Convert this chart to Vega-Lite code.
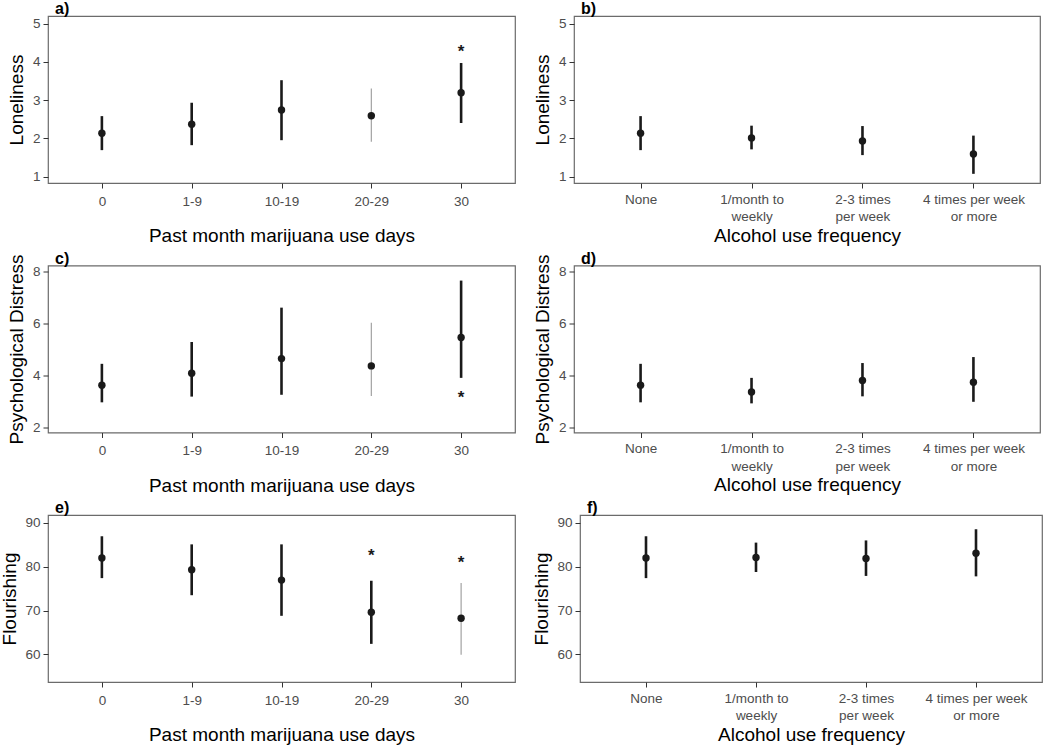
{
  "$schema": "https://vega.github.io/schema/vega-lite/v6.json",
  "padding": {"left": 0, "top": 0, "right": 4, "bottom": 0},
  "background": "white",
  "config": {
    "font": "Liberation Sans",
    "view": {"stroke": "#6b6b6b", "strokeWidth": 1.2},
    "axis": {"grid": false, "domain": false, "labelFont": "Liberation Sans", "titleFont": "Liberation Sans", "labelColor": "#4d4d4d", "titleColor": "#000000", "tickColor": "#333333", "tickSize": 5, "labelFontSize": 13.5, "titleFontSize": 19, "titleFontWeight": "normal"},
    "axisX": {"labelAngle": 0, "labelPadding": 4, "labelLineHeight": 17.5},
    "axisY": {"labelPadding": 3, "titlePadding": 6},
    "title": {"anchor": "start", "frame": "group", "font": "Liberation Sans", "fontSize": 16, "fontWeight": "bold", "offset": -1, "dx": 7, "color": "#000000"}
  },
  "data": {"values": [
    {"outcome": "Loneliness", "exposure": "Marijuana", "category": "0", "mean": 2.13, "lower": 1.69, "upper": 2.58, "sample": "full", "sig": null},
    {"outcome": "Loneliness", "exposure": "Marijuana", "category": "1-9", "mean": 2.37, "lower": 1.82, "upper": 2.93, "sample": "full", "sig": null},
    {"outcome": "Loneliness", "exposure": "Marijuana", "category": "10-19", "mean": 2.74, "lower": 1.95, "upper": 3.52, "sample": "full", "sig": null},
    {"outcome": "Loneliness", "exposure": "Marijuana", "category": "20-29", "mean": 2.59, "lower": 1.91, "upper": 3.30, "sample": "small", "sig": null},
    {"outcome": "Loneliness", "exposure": "Marijuana", "category": "30", "mean": 3.19, "lower": 2.40, "upper": 3.97, "sample": "full", "sig": 4.35},
    {"outcome": "Loneliness", "exposure": "Alcohol", "category": "None", "mean": 2.13, "lower": 1.69, "upper": 2.58, "sample": "full", "sig": null},
    {"outcome": "Loneliness", "exposure": "Alcohol", "category": "1/month to weekly", "mean": 2.01, "lower": 1.71, "upper": 2.33, "sample": "full", "sig": null},
    {"outcome": "Loneliness", "exposure": "Alcohol", "category": "2-3 times per week", "mean": 1.93, "lower": 1.56, "upper": 2.32, "sample": "full", "sig": null},
    {"outcome": "Loneliness", "exposure": "Alcohol", "category": "4 times per week or more", "mean": 1.59, "lower": 1.07, "upper": 2.07, "sample": "full", "sig": null},
    {"outcome": "Psychological Distress", "exposure": "Marijuana", "category": "0", "mean": 3.63, "lower": 2.97, "upper": 4.45, "sample": "full", "sig": null},
    {"outcome": "Psychological Distress", "exposure": "Marijuana", "category": "1-9", "mean": 4.09, "lower": 3.19, "upper": 5.29, "sample": "full", "sig": null},
    {"outcome": "Psychological Distress", "exposure": "Marijuana", "category": "10-19", "mean": 4.65, "lower": 3.26, "upper": 6.61, "sample": "full", "sig": null},
    {"outcome": "Psychological Distress", "exposure": "Marijuana", "category": "20-29", "mean": 4.37, "lower": 3.21, "upper": 6.03, "sample": "small", "sig": null},
    {"outcome": "Psychological Distress", "exposure": "Marijuana", "category": "30", "mean": 5.46, "lower": 3.91, "upper": 7.65, "sample": "full", "sig": 3.29},
    {"outcome": "Psychological Distress", "exposure": "Alcohol", "category": "None", "mean": 3.63, "lower": 2.97, "upper": 4.45, "sample": "full", "sig": null},
    {"outcome": "Psychological Distress", "exposure": "Alcohol", "category": "1/month to weekly", "mean": 3.37, "lower": 2.93, "upper": 3.91, "sample": "full", "sig": null},
    {"outcome": "Psychological Distress", "exposure": "Alcohol", "category": "2-3 times per week", "mean": 3.81, "lower": 3.20, "upper": 4.48, "sample": "full", "sig": null},
    {"outcome": "Psychological Distress", "exposure": "Alcohol", "category": "4 times per week or more", "mean": 3.74, "lower": 2.99, "upper": 4.71, "sample": "full", "sig": null},
    {"outcome": "Flourishing", "exposure": "Marijuana", "category": "0", "mean": 82.0, "lower": 77.4, "upper": 86.95, "sample": "full", "sig": null},
    {"outcome": "Flourishing", "exposure": "Marijuana", "category": "1-9", "mean": 79.3, "lower": 73.5, "upper": 85.1, "sample": "full", "sig": null},
    {"outcome": "Flourishing", "exposure": "Marijuana", "category": "10-19", "mean": 76.95, "lower": 68.8, "upper": 85.1, "sample": "full", "sig": null},
    {"outcome": "Flourishing", "exposure": "Marijuana", "category": "20-29", "mean": 69.6, "lower": 62.4, "upper": 76.8, "sample": "full", "sig": 83.4},
    {"outcome": "Flourishing", "exposure": "Marijuana", "category": "30", "mean": 68.24, "lower": 59.9, "upper": 76.3, "sample": "small", "sig": 81.76},
    {"outcome": "Flourishing", "exposure": "Alcohol", "category": "None", "mean": 82.0, "lower": 77.4, "upper": 86.95, "sample": "full", "sig": null},
    {"outcome": "Flourishing", "exposure": "Alcohol", "category": "1/month to weekly", "mean": 82.1, "lower": 78.8, "upper": 85.5, "sample": "full", "sig": null},
    {"outcome": "Flourishing", "exposure": "Alcohol", "category": "2-3 times per week", "mean": 81.9, "lower": 77.9, "upper": 86.0, "sample": "full", "sig": null},
    {"outcome": "Flourishing", "exposure": "Alcohol", "category": "4 times per week or more", "mean": 83.1, "lower": 77.8, "upper": 88.55, "sample": "full", "sig": null}
  ]},
  "concat": [
    {
      "hconcat": [
        {
          "title": "a)", "width": 467, "height": 167,
          "transform": [{"filter": "datum.outcome == 'Loneliness' && datum.exposure == 'Marijuana'"}],
          "encoding": {"x": {"field": "category", "type": "ordinal", "sort": ["0", "1-9", "10-19", "20-29", "30"], "scale": {"type": "point", "padding": 0.6}, "axis": {"title": "Past month marijuana use days", "titlePadding": 19, "labelPadding": 6}}},
          "layer": [
            {"mark": {"type": "rule", "strokeCap": "butt"}, "encoding": {
              "y": {"field": "lower", "type": "quantitative", "scale": {"domain": [0.83, 5.2], "nice": false, "zero": false}, "axis": {"title": "Loneliness", "values": [1, 2, 3, 4, 5]}},
              "y2": {"field": "upper"},
              "color": {"condition": {"test": "datum.sample == 'small'", "value": "#9a9a9a"}, "value": "#1a1a1a"},
              "strokeWidth": {"condition": {"test": "datum.sample == 'small'", "value": 1.1}, "value": 2.6}}},
            {"mark": {"type": "point", "filled": true, "size": 55, "opacity": 1, "color": "#1a1a1a"}, "encoding": {
              "y": {"field": "mean", "type": "quantitative", "axis": {"title": "Loneliness", "values": [1, 2, 3, 4, 5]}}}},
            {"transform": [{"filter": "isValid(datum.sig)"}], "mark": {"type": "text", "text": "*", "fontSize": 17, "fontWeight": "bold", "baseline": "alphabetic", "dy": 9, "color": "#1a1a1a"}, "encoding": {
              "y": {"field": "sig", "type": "quantitative", "axis": {"title": "Loneliness", "values": [1, 2, 3, 4, 5]}}}}
          ]
        },
        {
          "title": "b)", "width": 466, "height": 167,
          "transform": [{"filter": "datum.outcome == 'Loneliness' && datum.exposure == 'Alcohol'"}],
          "encoding": {"x": {"field": "category", "type": "ordinal", "sort": ["None", "1/month to weekly", "2-3 times per week", "4 times per week or more"], "scale": {"type": "point", "padding": 0.6}, "axis": {"title": "Alcohol use frequency", "titlePadding": 3, "labelExpr": "datum.label == '1/month to weekly' ? ['1/month to', 'weekly'] : datum.label == '2-3 times per week' ? ['2-3 times', 'per week'] : datum.label == '4 times per week or more' ? ['4 times per week', 'or more'] : datum.label"}}},
          "layer": [
            {"mark": {"type": "rule", "strokeCap": "butt"}, "encoding": {
              "y": {"field": "lower", "type": "quantitative", "scale": {"domain": [0.83, 5.2], "nice": false, "zero": false}, "axis": {"title": "Loneliness", "values": [1, 2, 3, 4, 5]}},
              "y2": {"field": "upper"},
              "color": {"condition": {"test": "datum.sample == 'small'", "value": "#9a9a9a"}, "value": "#1a1a1a"},
              "strokeWidth": {"condition": {"test": "datum.sample == 'small'", "value": 1.1}, "value": 2.6}}},
            {"mark": {"type": "point", "filled": true, "size": 55, "opacity": 1, "color": "#1a1a1a"}, "encoding": {
              "y": {"field": "mean", "type": "quantitative", "axis": {"title": "Loneliness", "values": [1, 2, 3, 4, 5]}}}}
          ]
        }
      ],
      "spacing": 16
    },
    {
      "hconcat": [
        {
          "title": {"text": "c)", "offset": -13}, "width": 467, "height": 167,
          "transform": [{"filter": "datum.outcome == 'Psychological Distress' && datum.exposure == 'Marijuana'"}],
          "encoding": {"x": {"field": "category", "type": "ordinal", "sort": ["0", "1-9", "10-19", "20-29", "30"], "scale": {"type": "point", "padding": 0.6}, "axis": {"title": "Past month marijuana use days", "titlePadding": 19, "labelPadding": 6}}},
          "layer": [
            {"mark": {"type": "rule", "strokeCap": "butt"}, "encoding": {
              "y": {"field": "lower", "type": "quantitative", "scale": {"domain": [1.81, 8.23], "nice": false, "zero": false}, "axis": {"title": "Psychological Distress", "values": [2, 4, 6, 8]}},
              "y2": {"field": "upper"},
              "color": {"condition": {"test": "datum.sample == 'small'", "value": "#9a9a9a"}, "value": "#1a1a1a"},
              "strokeWidth": {"condition": {"test": "datum.sample == 'small'", "value": 1.1}, "value": 2.6}}},
            {"mark": {"type": "point", "filled": true, "size": 55, "opacity": 1, "color": "#1a1a1a"}, "encoding": {
              "y": {"field": "mean", "type": "quantitative", "axis": {"title": "Psychological Distress", "values": [2, 4, 6, 8]}}}},
            {"transform": [{"filter": "isValid(datum.sig)"}], "mark": {"type": "text", "text": "*", "fontSize": 17, "fontWeight": "bold", "baseline": "alphabetic", "dy": 9, "color": "#1a1a1a"}, "encoding": {
              "y": {"field": "sig", "type": "quantitative", "axis": {"title": "Psychological Distress", "values": [2, 4, 6, 8]}}}}
          ]
        },
        {
          "title": {"text": "d)", "offset": -13}, "width": 466, "height": 167,
          "transform": [{"filter": "datum.outcome == 'Psychological Distress' && datum.exposure == 'Alcohol'"}],
          "encoding": {"x": {"field": "category", "type": "ordinal", "sort": ["None", "1/month to weekly", "2-3 times per week", "4 times per week or more"], "scale": {"type": "point", "padding": 0.6}, "axis": {"title": "Alcohol use frequency", "titlePadding": 3, "labelExpr": "datum.label == '1/month to weekly' ? ['1/month to', 'weekly'] : datum.label == '2-3 times per week' ? ['2-3 times', 'per week'] : datum.label == '4 times per week or more' ? ['4 times per week', 'or more'] : datum.label"}}},
          "layer": [
            {"mark": {"type": "rule", "strokeCap": "butt"}, "encoding": {
              "y": {"field": "lower", "type": "quantitative", "scale": {"domain": [1.81, 8.23], "nice": false, "zero": false}, "axis": {"title": "Psychological Distress", "values": [2, 4, 6, 8]}},
              "y2": {"field": "upper"},
              "color": {"condition": {"test": "datum.sample == 'small'", "value": "#9a9a9a"}, "value": "#1a1a1a"},
              "strokeWidth": {"condition": {"test": "datum.sample == 'small'", "value": 1.1}, "value": 2.6}}},
            {"mark": {"type": "point", "filled": true, "size": 55, "opacity": 1, "color": "#1a1a1a"}, "encoding": {
              "y": {"field": "mean", "type": "quantitative", "axis": {"title": "Psychological Distress", "values": [2, 4, 6, 8]}}}}
          ]
        }
      ],
      "spacing": 16
    },
    {
      "hconcat": [
        {
          "title": "e)", "width": 467, "height": 167,
          "transform": [{"filter": "datum.outcome == 'Flourishing' && datum.exposure == 'Marijuana'"}],
          "encoding": {"x": {"field": "category", "type": "ordinal", "sort": ["0", "1-9", "10-19", "20-29", "30"], "scale": {"type": "point", "padding": 0.6}, "axis": {"title": "Past month marijuana use days", "titlePadding": 19, "labelPadding": 6}}},
          "layer": [
            {"mark": {"type": "rule", "strokeCap": "butt"}, "encoding": {
              "y": {"field": "lower", "type": "quantitative", "scale": {"domain": [53.7, 91.8], "nice": false, "zero": false}, "axis": {"title": "Flourishing", "values": [60, 70, 80, 90], "titlePadding": 5}},
              "y2": {"field": "upper"},
              "color": {"condition": {"test": "datum.sample == 'small'", "value": "#9a9a9a"}, "value": "#1a1a1a"},
              "strokeWidth": {"condition": {"test": "datum.sample == 'small'", "value": 1.1}, "value": 2.6}}},
            {"mark": {"type": "point", "filled": true, "size": 55, "opacity": 1, "color": "#1a1a1a"}, "encoding": {
              "y": {"field": "mean", "type": "quantitative", "axis": {"title": "Flourishing", "values": [60, 70, 80, 90], "titlePadding": 5}}}},
            {"transform": [{"filter": "isValid(datum.sig)"}], "mark": {"type": "text", "text": "*", "fontSize": 17, "fontWeight": "bold", "baseline": "alphabetic", "dy": 9, "color": "#1a1a1a"}, "encoding": {
              "y": {"field": "sig", "type": "quantitative", "axis": {"title": "Flourishing", "values": [60, 70, 80, 90], "titlePadding": 5}}}}
          ]
        },
        {
          "title": "f)", "width": 462, "height": 167,
          "transform": [{"filter": "datum.outcome == 'Flourishing' && datum.exposure == 'Alcohol'"}],
          "encoding": {"x": {"field": "category", "type": "ordinal", "sort": ["None", "1/month to weekly", "2-3 times per week", "4 times per week or more"], "scale": {"type": "point", "padding": 0.6}, "axis": {"title": "Alcohol use frequency", "titlePadding": 3, "labelExpr": "datum.label == '1/month to weekly' ? ['1/month to', 'weekly'] : datum.label == '2-3 times per week' ? ['2-3 times', 'per week'] : datum.label == '4 times per week or more' ? ['4 times per week', 'or more'] : datum.label"}}},
          "layer": [
            {"mark": {"type": "rule", "strokeCap": "butt"}, "encoding": {
              "y": {"field": "lower", "type": "quantitative", "scale": {"domain": [53.7, 91.8], "nice": false, "zero": false}, "axis": {"title": "Flourishing", "values": [60, 70, 80, 90], "titlePadding": 5}},
              "y2": {"field": "upper"},
              "color": {"condition": {"test": "datum.sample == 'small'", "value": "#9a9a9a"}, "value": "#1a1a1a"},
              "strokeWidth": {"condition": {"test": "datum.sample == 'small'", "value": 1.1}, "value": 2.6}}},
            {"mark": {"type": "point", "filled": true, "size": 55, "opacity": 1, "color": "#1a1a1a"}, "encoding": {
              "y": {"field": "mean", "type": "quantitative", "axis": {"title": "Flourishing", "values": [60, 70, 80, 90], "titlePadding": 5}}}}
          ]
        }
      ],
      "spacing": 16
    }
  ],
  "columns": 1,
  "align": "none",
  "bounds": "flush",
  "spacing": 249.5
}
